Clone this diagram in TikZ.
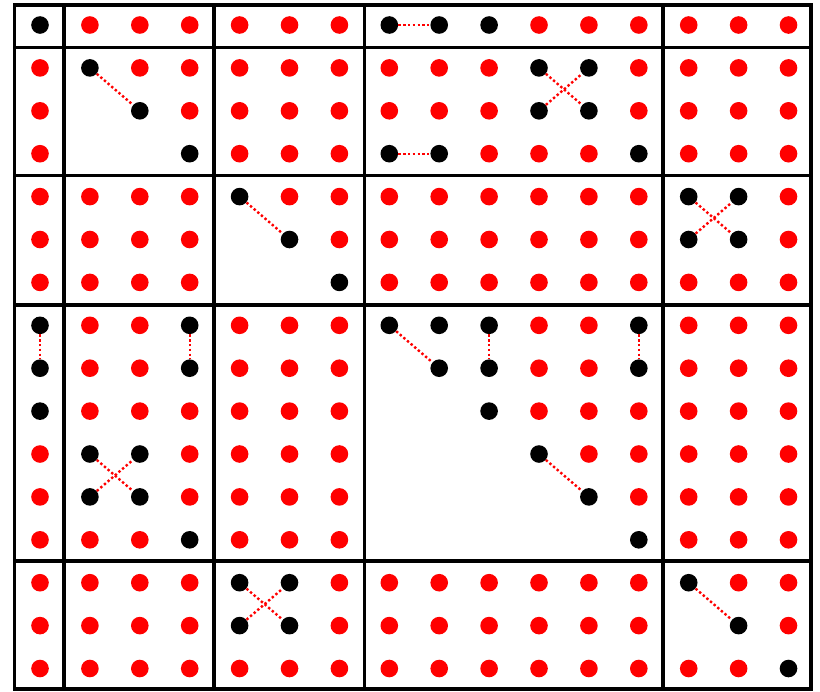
\documentclass[tikz,border=0pt]{standalone}
\usepackage{tikz}

\begin{document}
\begin{tikzpicture}[x=0.025cm,y=-0.025cm,
 dot/.style={circle,inner sep=0pt,minimum size=0.44cm},
 reddot/.style={dot,fill=red},
 blackdot/.style={dot,fill=black},
 link/.style={red,line width=1.7pt,dash pattern=on 1.7pt off 1.7pt},
 block/.style={line width=2.6pt}]
 \useasboundingbox (0,0) rectangle (820,691);
 \fill[white] (0,0) rectangle (820,691);
 % entries: row / red columns / black columns
 \foreach \r/\reds/\blacks in {
  1/{2,3,4,5,6,7,11,12,13,14,15,16}/{1,8,9,10},
  2/{1,3,4,5,6,7,8,9,10,13,14,15,16}/{2,11,12},
  3/{1,4,5,6,7,8,9,10,13,14,15,16}/{3,11,12},
  4/{1,5,6,7,10,11,12,14,15,16}/{4,8,9,13},
  5/{1,2,3,4,6,7,8,9,10,11,12,13,16}/{5,14,15},
  6/{1,2,3,4,7,8,9,10,11,12,13,16}/{6,14,15},
  7/{1,2,3,4,8,9,10,11,12,13,14,15,16}/{7},
  8/{2,3,5,6,7,11,12,14,15,16}/{1,4,8,9,10,13},
  9/{2,3,5,6,7,11,12,14,15,16}/{1,4,9,10,13},
  10/{2,3,4,5,6,7,11,12,13,14,15,16}/{1,10},
  11/{1,4,5,6,7,12,13,14,15,16}/{2,3,11},
  12/{1,4,5,6,7,13,14,15,16}/{2,3,12},
  13/{1,2,3,5,6,7,14,15,16}/{4,13},
  14/{1,2,3,4,7,8,9,10,11,12,13,15,16}/{5,6,14},
  15/{1,2,3,4,7,8,9,10,11,12,13,16}/{5,6,15},
  16/{1,2,3,4,5,6,7,8,9,10,11,12,13,14,15}/{16}}{
  \foreach \c in \reds
   \node[reddot] (p-\r-\c) at ({40+49.9*(\c-1)},{25+42.9*(\r-1)}) {};
  \foreach \c in \blacks
   \node[blackdot] (p-\r-\c) at ({40+49.9*(\c-1)},{25+42.9*(\r-1)}) {};
 }
 % block borders
 \draw[block] (14.5,5) rectangle (811,689);
 \foreach \x in {64,214,364.5,663}
  \draw[block] (\x,5) -- (\x,689);
 \foreach \y in {47.5,175.5,305,561}
  \draw[block] (14.5,\y) -- (811,\y);
 % dotted links
 \draw[link] (p-1-8) -- (p-1-9);
 \draw[link] (p-2-2) -- (p-3-3);
 \draw[link] (p-2-11) -- (p-3-12);
 \draw[link] (p-3-11) -- (p-2-12);
 \draw[link] (p-4-8) -- (p-4-9);
 \draw[link] (p-5-5) -- (p-6-6);
 \draw[link] (p-5-14) -- (p-6-15);
 \draw[link] (p-6-14) -- (p-5-15);
 \draw[link] (p-8-1) -- (p-9-1);
 \draw[link] (p-8-4) -- (p-9-4);
 \draw[link] (p-8-8) -- (p-9-9);
 \draw[link] (p-8-10) -- (p-9-10);
 \draw[link] (p-8-13) -- (p-9-13);
 \draw[link] (p-11-2) -- (p-12-3);
 \draw[link] (p-12-2) -- (p-11-3);
 \draw[link] (p-11-11) -- (p-12-12);
 \draw[link] (p-14-5) -- (p-15-6);
 \draw[link] (p-15-5) -- (p-14-6);
 \draw[link] (p-14-14) -- (p-15-15);
\end{tikzpicture}
\end{document}
